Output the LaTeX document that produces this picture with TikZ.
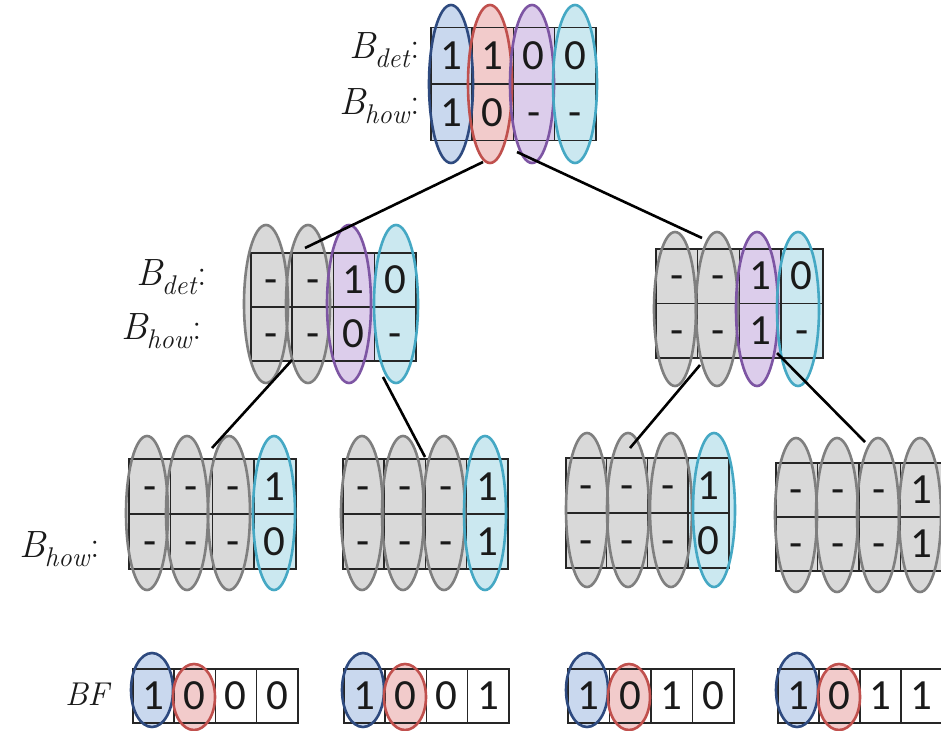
\documentclass[tikz,border=0pt]{standalone}
\usepackage{fontspec}
\setsansfont{Carlito}
\usetikzlibrary{shapes.geometric}
\pgfdeclarelayer{bg}\pgfdeclarelayer{fg}\pgfdeclarelayer{top}
\pgfsetlayers{bg,main,fg,top}
\definecolor{EBlue}{HTML}{2E4A7F}\definecolor{FBlue}{HTML}{C9D8EE}
\definecolor{ERed}{HTML}{C0504D}\definecolor{FRed}{HTML}{F2CBCB}
\definecolor{EPur}{HTML}{7D55A3}\definecolor{FPur}{HTML}{DCCDEB}
\definecolor{ECy}{HTML}{45A8C4}\definecolor{FCy}{HTML}{CBE8F0}
\definecolor{EGr}{HTML}{7F7F7F}\definecolor{FGr}{HTML}{D9D9D9}
\definecolor{FW}{HTML}{FFFFFF}
\definecolor{txt}{HTML}{1A1A1A}
\tikzset{
  cellbox/.style={draw=black!85, line width=1.5pt, anchor=north west, inner sep=0pt,
    text=txt, font=\sffamily\fontsize{43}{43}\selectfont},
  lab/.style={anchor=east, inner sep=0pt, text=txt, font=\fontsize{38}{40}\selectfont},
  conn/.style={draw=black, line width=2.6pt},
}
\newcommand\Sub[2]{{\itshape #1}\kern-1pt\raisebox{-0.25em}{\fontsize{27}{27}\selectfont\itshape #2}\kern1pt:}
\newcommand\Grid[6]{%
  \foreach \i/\va/\vb/\cl in {#6}{%
    \node[cellbox, fill=F\cl, minimum width=#4pt, minimum height=#5pt] (#1-\i-a) at ({#2+\i*#4},#3) {\vphantom{0}\va};
    \node[cellbox, fill=F\cl, minimum width=#4pt, minimum height=#5pt] (#1-\i-b) at ({#2+\i*#4},{#3+#5}) {\vphantom{0}\vb};
  }}
\newcommand\Row[5]{%
  \foreach \i/\va in {#5}{%
    \node[cellbox, fill=none, minimum width=#4pt, minimum height=54pt] (#1-\i) at ({#2+\i*#4},#3) {\vphantom{0}\va};
  }}
\newcommand\Ell[5]{%
  \begin{pgfonlayer}{bg}\fill[F#5] (#1,#2) ellipse [x radius=#3, y radius=#4];\end{pgfonlayer}%
  \begin{pgfonlayer}{fg}\draw[E#5, line width=2.6pt] (#1,#2) ellipse [x radius=#3, y radius=#4];\end{pgfonlayer}}
\begin{document}
\begin{tikzpicture}[x=1pt,y=-1pt]
\begin{pgfonlayer}{bg}
\fill[white] (0,0) rectangle (941,730);
\end{pgfonlayer}
\useasboundingbox (0,0) rectangle (941,730);

% ---- top grid
\Grid{T}{430}{27}{41.25}{56.5}{0/1/1/Blue,1/1/0/Red,2/0/-/Pur,3/0/-/Cy}
\foreach \x/\cl in {451/Blue,490/Red,532/Pur,575/Cy}{\Ell{\x}{84}{22}{79}{\cl}}
\node[lab] (Tdet) at (420,50) {\Sub{B}{det}};
\node[lab] (Thow) at (420,106) {\Sub{B}{how}};

% ---- middle left
\Grid{ML}{250}{252}{41.25}{54}{0/-/-/Gr,1/-/-/Gr,2/1/0/Pur,3/0/-/Cy}
\foreach \x/\cl in {266/Gr,308/Gr,349/Pur,396/Cy}{\Ell{\x}{304}{22}{79}{\cl}}
\node[lab] (MLdet) at (207,277) {\Sub{B}{det}};
\node[lab] (MLhow) at (202,331) {\Sub{B}{how}};

% ---- middle right
\Grid{MR}{655}{248}{41.75}{54.5}{0/-/-/Gr,1/-/-/Gr,2/1/1/Pur,3/0/-/Cy}
\foreach \x/\cl in {675/Gr,717/Gr,757/Pur,798/Cy}{\Ell{\x}{309}{21}{77}{\cl}}

% ---- bottom row
\Grid{BA}{128}{458}{41.75}{55}{0/-/-/Gr,1/-/-/Gr,2/-/-/Gr,3/1/0/Cy}
\foreach \x/\cl in {147/Gr,187/Gr,229/Gr,274/Cy}{\Ell{\x}{513}{21}{77}{\cl}}
\Grid{BB}{342}{458}{41.25}{55}{0/-/-/Gr,1/-/-/Gr,2/-/-/Gr,3/1/1/Cy}
\foreach \x/\cl in {362/Gr,403/Gr,444/Gr,485/Cy}{\Ell{\x}{513}{21}{77}{\cl}}
\Grid{BC}{565}{457}{40.75}{55}{0/-/-/Gr,1/-/-/Gr,2/-/-/Gr,3/1/0/Cy}
\foreach \x/\cl in {587/Gr,628/Gr,671/Gr,714/Cy}{\Ell{\x}{510}{21}{77}{\cl}}
\Grid{BD}{775}{462}{41.5}{54}{0/-/-/Gr,1/-/-/Gr,2/-/-/Gr,3/1/1/Gr}
\foreach \x/\cl in {796/Gr,837/Gr,878/Gr,920/Gr}{\Ell{\x}{515}{21}{77}{\cl}}
\node[lab] (Bhow) at (100,549) {\Sub{B}{how}};

% ---- BF row
\Row{FA}{132}{668}{41.25}{0/1,1/0,2/0,3/0}
\Row{FB}{343}{668}{41.25}{0/1,1/0,2/0,3/1}
\Row{FC}{567}{668}{41.5}{0/1,1/0,2/1,3/0}
\Row{FD}{777}{668}{41}{0/1,1/0,2/1,3/1}
\foreach \x in {132,343,567,777}{%
  \Ell{\x+20}{690}{21}{37}{Blue}
  \Ell{\x+62}{697}{21}{33}{Red}}
\node[lab, font=\fontsize{33}{35}\selectfont\itshape] (BFl) at (109,694) {BF};

% ---- connectors
\coordinate (t1) at (483,162); \coordinate (ml0) at (305,248);
\coordinate (t2) at (517,152); \coordinate (mr0) at (702,238);
\coordinate (ml1) at (292,360); \coordinate (ba0) at (212,448);
\coordinate (ml2) at (383,377); \coordinate (bb0) at (425,457);
\coordinate (mr1) at (700,365); \coordinate (bc0) at (630,448);
\coordinate (mr2) at (777,353); \coordinate (bd0) at (865,442);
\begin{pgfonlayer}{top}
\draw[conn] (t1) -- (ml0);
\draw[conn] (t2) -- (mr0);
\draw[conn] (ml1) -- (ba0);
\draw[conn] (ml2) -- (bb0);
\draw[conn] (mr1) -- (bc0);
\draw[conn] (mr2) -- (bd0);
\end{pgfonlayer}
\end{tikzpicture}
\end{document}
